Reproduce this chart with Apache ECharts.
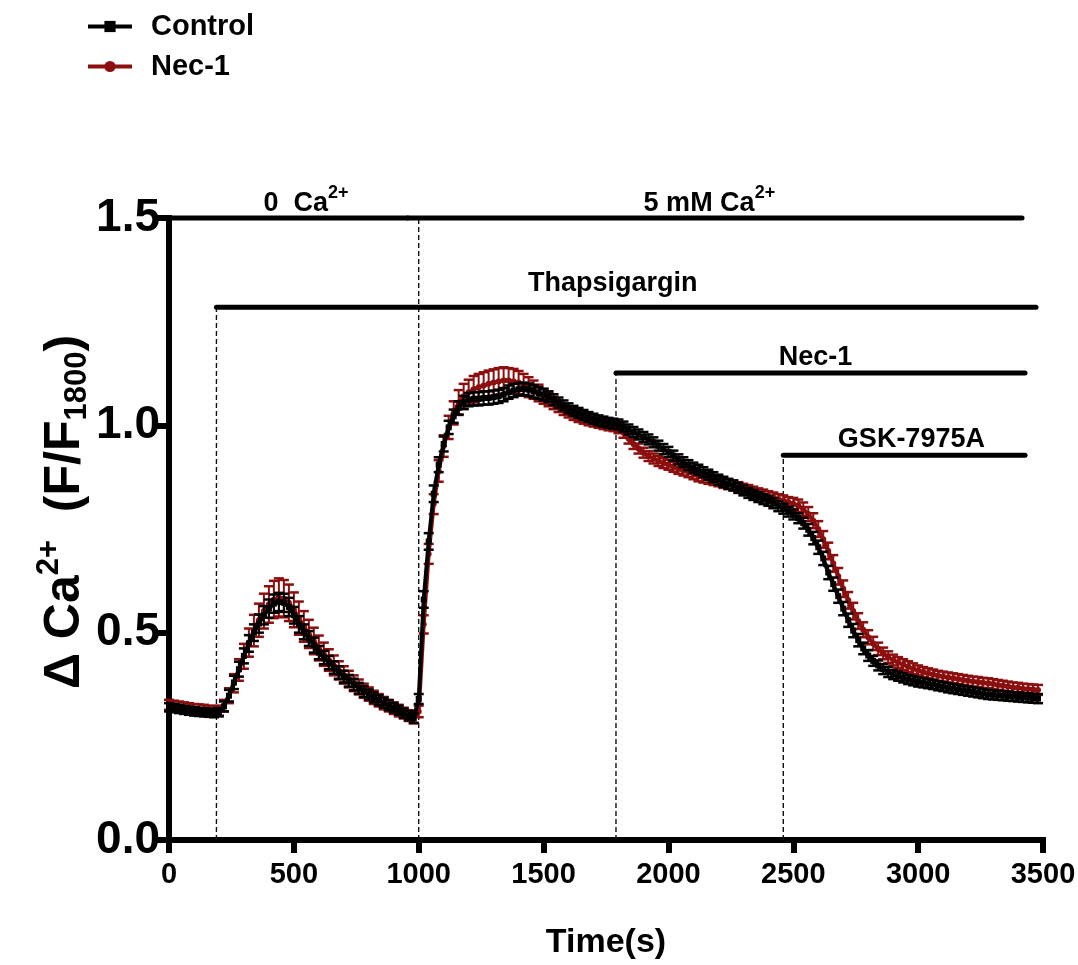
<!DOCTYPE html>
<html>
<head>
<meta charset="utf-8">
<script src="https://cdn.jsdelivr.net/npm/echarts@6/dist/echarts.min.js"></script>
<style>
  html, body { margin: 0; padding: 0; background: #fff; }
  #chart { width: 1078px; height: 965px; }
</style>
</head>
<body>
<div id="chart"></div>
<script>
// ---------------- data ----------------
const timeStep = 20; // seconds between recorded frames
const seriesNames = ['Control', 'Nec-1'];

const controlMean = [
  0.320,0.318,0.316,0.314,0.312,0.310,0.309,0.308,0.307,0.306,
  0.308,0.322,0.348,0.380,0.412,0.444,0.474,0.500,0.522,0.542,0.558,0.570,0.574,0.572,0.562,
  0.542,0.520,0.502,0.486,0.470,0.452,0.440,0.428,0.416,0.404,0.394,0.384,0.375,0.366,0.358,0.351,0.344,0.337,0.331,0.325,0.319,0.313,0.306,0.300,0.294,
  0.340,0.580,0.720,0.835,0.905,0.955,0.995,1.022,1.042,1.055,1.062,1.064,1.064,1.066,1.066,1.068,1.070,1.074,1.080,1.084,1.087,1.088,1.086,1.082,1.078,
  1.074,1.069,1.062,1.055,1.048,1.041,1.035,1.030,1.025,1.020,1.016,1.012,1.009,1.006,1.004,1.002,0.997,0.990,0.984,0.978,0.972,0.966,0.959,0.951,0.943,
  0.936,0.927,0.918,0.911,0.904,0.898,0.893,0.887,0.881,0.875,0.869,0.864,0.859,0.855,0.849,0.843,0.837,0.832,0.827,0.822,0.818,0.812,0.805,0.799,0.792,
  0.785,0.776,0.764,0.748,0.728,0.706,0.679,0.645,0.617,0.588,0.558,0.530,0.505,0.482,0.462,0.445,0.432,0.421,0.412,0.405,0.399,0.395,0.391,0.387,0.384,
  0.381,0.379,0.377,0.375,0.372,0.370,0.367,0.365,0.363,0.361,0.359,0.357,0.355,0.353,0.351,0.350,0.349,0.348,0.347,0.346,0.345,0.344,0.343,0.342,0.341
];
const controlErr = [
  0.010,0.010,0.010,0.010,0.010,0.010,0.010,0.010,0.010,0.010,
  0.010,0.012,0.014,0.016,0.018,0.018,0.020,0.020,0.022,0.022,0.022,0.022,0.022,0.022,0.022,
  0.020,0.020,0.018,0.018,0.018,0.016,0.016,0.016,0.015,0.015,0.014,0.014,0.014,0.013,0.013,0.012,0.012,0.012,0.012,0.012,0.011,0.011,0.011,0.011,0.011,
  0.012,0.020,0.020,0.020,0.018,0.018,0.016,0.016,0.016,0.016,0.016,0.016,0.016,0.016,0.016,0.016,0.016,0.016,0.016,0.016,0.015,0.015,0.015,0.015,0.014,
  0.014,0.013,0.013,0.012,0.012,0.012,0.012,0.012,0.012,0.012,0.012,0.012,0.012,0.012,0.012,0.012,0.012,0.012,0.012,0.012,0.012,0.012,0.012,0.012,0.012,
  0.012,0.012,0.012,0.012,0.012,0.012,0.012,0.012,0.012,0.012,0.012,0.012,0.012,0.012,0.012,0.012,0.012,0.012,0.012,0.012,0.012,0.012,0.012,0.012,0.012,
  0.012,0.012,0.013,0.014,0.015,0.016,0.016,0.016,0.016,0.016,0.016,0.016,0.016,0.015,0.014,0.013,0.012,0.012,0.012,0.012,0.011,0.011,0.011,0.011,0.011,
  0.011,0.011,0.011,0.011,0.011,0.011,0.011,0.011,0.011,0.011,0.011,0.011,0.011,0.011,0.011,0.011,0.011,0.011,0.011,0.011,0.011,0.011,0.011,0.011,0.011
];
const nec1Mean = [
  0.326,0.324,0.322,0.320,0.318,0.316,0.315,0.314,0.312,0.311,
  0.312,0.324,0.348,0.378,0.410,0.443,0.476,0.505,0.530,0.552,0.568,0.580,0.585,0.582,0.572,
  0.555,0.535,0.515,0.497,0.480,0.463,0.448,0.434,0.421,0.409,0.398,0.388,0.378,0.369,0.360,0.352,0.344,0.337,0.330,0.324,0.318,0.312,0.306,0.300,0.294,
  0.310,0.520,0.690,0.810,0.890,0.950,0.995,1.030,1.055,1.070,1.080,1.087,1.092,1.096,1.100,1.103,1.106,1.108,1.108,1.106,1.103,1.098,1.092,1.086,1.078,
  1.070,1.062,1.054,1.046,1.038,1.031,1.025,1.020,1.016,1.012,1.009,1.006,1.003,1.000,0.998,0.993,0.982,0.968,0.955,0.944,0.934,0.926,0.920,0.914,0.909,
  0.905,0.900,0.895,0.891,0.887,0.882,0.877,0.874,0.871,0.868,0.865,0.861,0.858,0.855,0.851,0.847,0.844,0.840,0.836,0.833,0.829,0.826,0.822,0.819,0.815,
  0.811,0.806,0.798,0.786,0.770,0.750,0.725,0.697,0.667,0.636,0.606,0.578,0.552,0.528,0.507,0.489,0.474,0.461,0.450,0.441,0.434,0.428,0.423,0.418,0.413,
  0.409,0.405,0.402,0.399,0.396,0.394,0.392,0.390,0.388,0.386,0.384,0.382,0.381,0.379,0.378,0.376,0.374,0.372,0.370,0.368,0.367,0.365,0.364,0.363,0.362
];
const nec1Err = [
  0.012,0.012,0.012,0.012,0.012,0.012,0.012,0.012,0.012,0.012,
  0.012,0.014,0.018,0.022,0.026,0.030,0.034,0.038,0.040,0.042,0.044,0.045,0.046,0.045,0.044,
  0.042,0.040,0.037,0.034,0.032,0.030,0.028,0.026,0.024,0.022,0.021,0.020,0.019,0.018,0.017,0.016,0.016,0.015,0.015,0.014,0.014,0.014,0.013,0.013,0.013,
  0.014,0.022,0.024,0.024,0.026,0.026,0.028,0.028,0.030,0.030,0.030,0.032,0.032,0.032,0.032,0.032,0.032,0.032,0.030,0.030,0.028,0.026,0.024,0.022,0.020,
  0.018,0.016,0.015,0.014,0.013,0.012,0.012,0.012,0.012,0.012,0.012,0.012,0.012,0.012,0.012,0.012,0.012,0.012,0.012,0.012,0.012,0.012,0.012,0.012,0.012,
  0.012,0.012,0.012,0.012,0.012,0.012,0.012,0.012,0.012,0.012,0.012,0.012,0.012,0.012,0.012,0.012,0.012,0.012,0.012,0.012,0.012,0.012,0.012,0.012,0.012,
  0.014,0.015,0.016,0.017,0.018,0.019,0.020,0.020,0.020,0.020,0.020,0.020,0.020,0.019,0.018,0.017,0.016,0.015,0.014,0.014,0.013,0.013,0.013,0.013,0.013,
  0.012,0.012,0.012,0.012,0.012,0.012,0.012,0.012,0.012,0.012,0.012,0.012,0.012,0.012,0.012,0.012,0.012,0.012,0.012,0.012,0.012,0.012,0.012,0.012,0.012
];

// treatment bars: [start s, end s, level]
const treatmentBars = [
  [0, 956, 1.5],
  [956, 3416, 1.5],
  [190, 3472, 1.285],
  [1790, 3428, 1.126],
  [2460, 3428, 0.928]
];
// dashed drop lines: [time s, top level]
const dropLines = [
  [190, 1.285],
  [1000, 1.5],
  [1790, 1.126],
  [2460, 0.928]
];
// treatment labels and their anchor [time s, level]
const treatmentLabels = ['0  Ca{sup|2+}', '5 mM Ca{sup|2+}', 'Thapsigargin', 'Nec-1', 'GSK-7975A'];
const treatmentLabelAnchors = [
  [549, 1.534],
  [2164, 1.534],
  [1777, 1.343],
  [2589, 1.163],
  [2973, 0.965]
];

const xTicks = [0, 500, 1000, 1500, 2000, 2500, 3000, 3500];
const yTicks = [0.0, 0.5, 1.0, 1.5];

// ---------------- chart ----------------
const RED = '#8c0f0f';
const BLACK = '#000000';
const FONT = '"Liberation Sans", Arial, Helvetica, sans-serif';

const controlData = controlMean.map((v, i) => [i * timeStep, v, controlErr[i]]);
const nec1Data = nec1Mean.map((v, i) => [i * timeStep, v, nec1Err[i]]);

function errRender(color) {
  return function (params, api) {
    const x = api.value(0), y = api.value(1), e = api.value(2);
    const hi = api.coord([x, y + e]);
    const lo = api.coord([x, y - e]);
    const hw = 5;
    return {
      type: 'group',
      children: [
        { type: 'line', shape: { x1: hi[0], y1: hi[1], x2: lo[0], y2: lo[1] }, style: { stroke: color, lineWidth: 2 } },
        { type: 'line', shape: { x1: hi[0] - hw, y1: hi[1], x2: hi[0] + hw, y2: hi[1] }, style: { stroke: color, lineWidth: 2.5 } },
        { type: 'line', shape: { x1: lo[0] - hw, y1: lo[1], x2: lo[0] + hw, y2: lo[1] }, style: { stroke: color, lineWidth: 2.5 } }
      ]
    };
  };
}

const richLabel = {
  sup: { fontSize: 18, fontWeight: 'bold', fontFamily: FONT, fill: '#000', color: '#000', padding: [0, 0, 22, 0] }
};

const chart = echarts.init(document.getElementById('chart'), null, { renderer: 'canvas' });
chart.setOption({
  animation: false,
  backgroundColor: '#ffffff',
  grid: { left: 169, right: 35, top: 218, bottom: 125, containLabel: false, outerBoundsMode: 'none' },
  legend: {
    data: ['Control', 'Nec-1'],
    orient: 'vertical',
    left: 81,
    top: 7,
    itemWidth: 44,
    itemHeight: 14,
    itemGap: 11,
    lineStyle: { width: 4 },
    textStyle: { fontSize: 29, fontWeight: 'bold', fontFamily: FONT, color: '#000', padding: [0, 0, 0, 14] }
  },
  xAxis: {
    type: 'value',
    min: 0, max: 3500, interval: 500,
    name: 'Time(s)',
    nameLocation: 'middle',
    nameGap: 86,
    nameMoveOverlap: false,
    nameTextStyle: { fontSize: 34, fontWeight: 'bold', fontFamily: FONT, color: '#000' },
    axisLine: { lineStyle: { color: '#000', width: 6, cap: 'square' } },
    axisTick: { length: 13, lineStyle: { color: '#000', width: 6 } },
    axisLabel: { fontSize: 29, fontWeight: 'bold', fontFamily: FONT, color: '#000', margin: 20,
      formatter: v => String(v) },
    splitLine: { show: false }
  },
  yAxis: {
    type: 'value',
    min: 0, max: 1.5, interval: 0.5,
    name: '{m|Δ Ca}{sup|2+}{m|  (F/F}{sub|1800}{m|)}',
    nameLocation: 'middle',
    nameGap: 72,
    nameRotate: 90,
    nameMoveOverlap: false,
    nameTextStyle: {
      fontSize: 50, fontWeight: 'bold', fontFamily: FONT, color: '#000',
      padding: [0, 0, 0, 34],
      rich: {
        m: { fontSize: 50, fontWeight: 'bold', fontFamily: FONT, color: '#000' },
        sup: { fontSize: 31, fontWeight: 'bold', fontFamily: FONT, color: '#000', padding: [0, 0, 32, 0] },
        sub: { fontSize: 31, fontWeight: 'bold', fontFamily: FONT, color: '#000', padding: [24, 0, 0, 0] }
      }
    },
    axisLine: { lineStyle: { color: '#000', width: 6, cap: 'square' } },
    axisTick: { length: 12, lineStyle: { color: '#000', width: 6 } },
    axisLabel: { fontSize: 46, fontWeight: 'bold', fontFamily: FONT, color: '#000', margin: 9,
      formatter: v => v.toFixed(1) },
    splitLine: { show: false }
  },
  series: [
    {
      name: 'Nec-1-err', type: 'custom', renderItem: errRender(RED), data: nec1Data,
      encode: { x: 0, y: 1 }, z: 2, silent: true
    },
    {
      name: 'Nec-1', type: 'line', data: nec1Data.map(d => [d[0], d[1]]),
      symbol: 'circle', symbolSize: 6, showAllSymbol: true,
      itemStyle: { color: RED }, lineStyle: { color: RED, width: 4 }, z: 3
    },
    {
      name: 'Control-err', type: 'custom', renderItem: errRender(BLACK), data: controlData,
      encode: { x: 0, y: 1 }, z: 4, silent: true
    },
    {
      name: 'Control', type: 'line', data: controlData.map(d => [d[0], d[1]]),
      symbol: 'rect', symbolSize: 6, showAllSymbol: true,
      itemStyle: { color: BLACK }, lineStyle: { color: BLACK, width: 4 }, z: 5
    },
    {
      name: 'drops', type: 'custom', silent: true, z: 1,
      data: dropLines, encode: { x: 0, y: 1 },
      renderItem: function (params, api) {
        const t = api.value(0), lv = api.value(1);
        const p0 = api.coord([t, 0]);
        const p1 = api.coord([t, lv]);
        return { type: 'line', shape: { x1: p0[0], y1: p0[1], x2: p1[0], y2: p1[1] },
          style: { stroke: '#111', lineWidth: 1.4, lineDash: [5, 3] } };
      }
    },
    {
      name: 'bars', type: 'custom', silent: true, z: 6,
      data: treatmentBars, encode: { x: [0, 1], y: 2 },
      renderItem: function (params, api) {
        const a = api.coord([api.value(0), api.value(2)]);
        const b = api.coord([api.value(1), api.value(2)]);
        return { type: 'line', shape: { x1: a[0], y1: a[1], x2: b[0], y2: b[1] },
          style: { stroke: '#000', lineWidth: 5, lineCap: 'round' } };
      }
    },
    {
      name: 'labels', type: 'custom', silent: true, z: 7,
      data: treatmentLabelAnchors, encode: { x: 0, y: 1 },
      renderItem: function (params, api) {
        const p = api.coord([api.value(0), api.value(1)]);
        return {
          type: 'text', x: p[0], y: p[1],
          style: {
            text: treatmentLabels[params.dataIndex],
            fill: '#000', font: 'bold 27px ' + FONT,
            align: 'center', verticalAlign: 'middle',
            rich: richLabel
          }
        };
      }
    }
  ]
});
</script>
</body>
</html>
